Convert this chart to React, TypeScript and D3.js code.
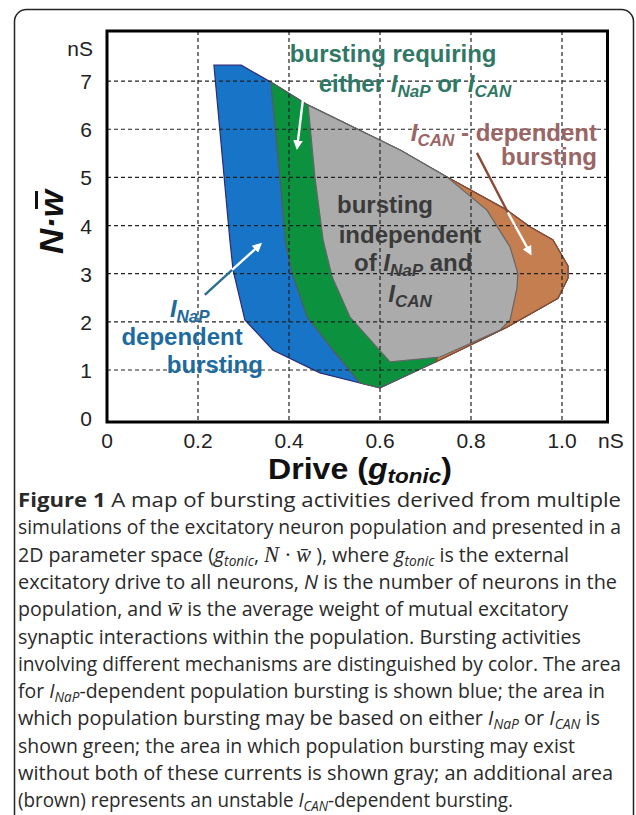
import * as d3 from "d3";

const W = 636;
const H = 815;

// axes
const xTicks = [0, 0.2, 0.4, 0.6, 0.8, 1.0];
const xTickLabels = ["0", "0.2", "0.4", "0.6", "0.8", "1.0"];
const yTicks = [0, 1, 2, 3, 4, 5, 6, 7];
const xGrid = [0.2, 0.4, 0.6, 0.8, 1.0];
const yGrid = [1, 2, 3, 4, 5, 6, 7];

// regions, [g_tonic, N*w]; drawn one over another
const blueRegion: [number, number][] = [
  [0.235, 7.33], [0.295, 7.33], [0.36, 6.98], [0.442, 6.5], [0.644, 5.57],
  [0.747, 5.01], [0.879, 4.32], [0.93, 3.97], [0.98, 3.7], [1.013, 3.16],
  [1.013, 2.91], [0.991, 2.49], [0.879, 1.89], [0.723, 1.17], [0.6, 0.63],
  [0.556, 0.73], [0.468, 0.94], [0.365, 1.41], [0.303, 2.04], [0.277, 3.08],
  [0.27, 3.7],
];
const greenRegion: [number, number][] = [
  [0.36, 6.98], [0.442, 6.5], [0.644, 5.57], [0.747, 5.01], [0.879, 4.32],
  [0.93, 3.97], [0.98, 3.7], [1.013, 3.16], [1.013, 2.91], [0.991, 2.49],
  [0.879, 1.89], [0.723, 1.17], [0.6, 0.63], [0.556, 0.73], [0.497, 1.41],
  [0.44, 2.1], [0.407, 3.01], [0.393, 3.6], [0.38, 5.01],
];
const brownRegion: [number, number][] = [
  [0.747, 5.01], [0.879, 4.32], [0.93, 3.97], [0.98, 3.7], [1.013, 3.16],
  [1.013, 2.91], [0.991, 2.49], [0.879, 1.89], [0.723, 1.17], [0.8, 3.0],
];
const grayRegion: [number, number][] = [
  [0.442, 6.5], [0.644, 5.57], [0.747, 5.01], [0.835, 4.32], [0.886, 3.55],
  [0.903, 3.01], [0.901, 2.7], [0.886, 2.04], [0.864, 1.83], [0.732, 1.27],
  [0.622, 1.17], [0.534, 2.1], [0.495, 2.93], [0.475, 3.7], [0.457, 5.01],
];

// arrows: start, colour change, tip
const arrowGreen: [number, number][] = [[0.435, 6.96], [0.435, 6.96], [0.418, 5.63]];
const arrowBrown: [number, number][] = [[0.813, 5.51], [0.881, 4.27], [0.93, 3.43]];
const arrowBlue: [number, number][] = [[0.215, 2.56], [0.275, 3.08], [0.336, 3.6]];

// n = normal, b = bold, i = italic, s = italic subscript, m = math
type Seg = [string, string];

// label text, [x, y] in data units, anchor, colour
const annotations: { segs: Seg[]; at: [number, number]; anchor: string; color: string }[] = [
  { segs: [["n", "bursting  requiring"]], at: [0.629, 7.4], anchor: "middle", color: "#2f7866" },
  { segs: [["n", "either "], ["i", "I"], ["s", "NaP"], ["n", " or "], ["i", "I"], ["s", "CAN"]], at: [0.677, 6.77], anchor: "middle", color: "#2f7866" },
  { segs: [["i", "I"], ["s", "CAN"], ["n", " - dependent"]], at: [1.077, 5.76], anchor: "end", color: "#9a6565" },
  { segs: [["n", "bursting"]], at: [1.077, 5.26], anchor: "end", color: "#9a6565" },
  { segs: [["n", "bursting"]], at: [0.611, 4.26], anchor: "middle", color: "#3a3a3a" },
  { segs: [["n", "independent"]], at: [0.666, 3.64], anchor: "middle", color: "#3a3a3a" },
  { segs: [["n", "of "], ["i", "I"], ["s", "NaP"], ["n", " and"]], at: [0.673, 3.05], anchor: "middle", color: "#3a3a3a" },
  { segs: [["i", "I"], ["s", "CAN"]], at: [0.666, 2.41], anchor: "middle", color: "#3a3a3a" },
  { segs: [["i", "I"], ["s", "NaP"]], at: [0.182, 2.1], anchor: "middle", color: "#1d6b9e" },
  { segs: [["n", "dependent"]], at: [0.165, 1.52], anchor: "middle", color: "#1d6b9e" },
  { segs: [["n", "bursting"]], at: [0.237, 0.94], anchor: "middle", color: "#1d6b9e" },
];

const captionLines: Seg[][] = [
  [["b", "Figure 1"], ["n", " A map of bursting activities derived from multiple"]],
  [["n", "simulations of the excitatory neuron population and presented in a"]],
  [["n", "2D parameter space ("], ["i", "g"], ["s", "tonic"], ["n", ",  "], ["m", "N · w\u0304"], ["n", " ), where "], ["i", "g"], ["s", "tonic"], ["n", " is the external"]],
  [["n", "excitatory drive to all neurons, "], ["i", "N"], ["n", " is the number of neurons in the"]],
  [["n", "population, and  "], ["m", "w\u0304"], ["n", "  is the average weight of mutual excitatory"]],
  [["n", "synaptic interactions within the population. Bursting activities"]],
  [["n", "involving different mechanisms are distinguished by color. The area"]],
  [["n", "for "], ["i", "I"], ["s", "NaP"], ["n", "-dependent population bursting is shown blue; the area in"]],
  [["n", "which population bursting may be based on either "], ["i", "I"], ["s", "NaP"], ["n", " or "], ["i", "I"], ["s", "CAN"], ["n", " is"]],
  [["n", "shown green; the area in which population bursting may exist"]],
  [["n", "without both of these currents is shown gray; an additional area"]],
  [["n", "(brown) represents an unstable "], ["i", "I"], ["s", "CAN"], ["n", "-dependent bursting."]],
];
const captionEnds = [621, 621, 569, 617, 568, 581, 621, 605, 600, 575, 613, 513];

const SANS = "Liberation Sans, Arial, sans-serif";

function renderSegs(segs: Seg[], subSize: number, shift: number, mathSize: number) {
  let shifted = false;
  return segs.map(([kind, txt], si) => {
    let dy = 0;
    if (kind === "s" && !shifted) { dy = shift; shifted = true; }
    else if (kind !== "s" && shifted) { dy = -shift; shifted = false; }
    const props: any = {};
    if (dy) props.dy = dy;
    if (kind === "b") props.fontWeight = "bold";
    if (kind === "i") props.fontStyle = "italic";
    if (kind === "s") { props.fontStyle = "italic"; props.fontSize = subSize; }
    if (kind === "m") {
      props.fontFamily = "Liberation Serif, serif";
      props.fontStyle = "italic";
      props.fontWeight = "normal";
      props.fontSize = mathSize;
    }
    return <tspan key={si} {...props}>{txt}</tspan>;
  });
}

export default function App() {
  const x = d3.scaleLinear().domain([0, 1.1]).range([107, 607.5]);
  const y = d3.scaleLinear().domain([-0.08, 8.04]).range([422, 31]);
  const path = d3
    .line<[number, number]>()
    .x((d) => x(d[0]))
    .y((d) => y(d[1]))
    .curve(d3.curveLinearClosed);
  const seg = (pts: [number, number][], a: number, b: number) =>
    `M${x(pts[a][0])},${y(pts[a][1])}L${x(pts[b][0])},${y(pts[b][1])}`;

  return (
    <svg width={W} height={H} style={{ position: "absolute", left: 0, top: 0 }} fontFamily={SANS}>
      <defs>
        <marker id="ahw" viewBox="0 0 10 10" refX="7" refY="5" markerWidth="4" markerHeight="4" orient="auto">
          <path d="M0,0L10,5L0,10z" fill="#fff" />
        </marker>
      </defs>
      <rect x={14.5} y={9.5} width={619} height={840} rx={12} fill="#fff" stroke="#222" strokeWidth={1.5} />

      {/* regions */}
      <path d={path(blueRegion)!} fill="#1874c6" stroke="#2a2a7a" strokeWidth={1.2} />
      <path d={path(greenRegion)!} fill="#0c923f" stroke="#5a5a5a" strokeWidth={1.2} />
      <path d={path(brownRegion)!} fill="#c47e50" stroke="#8a4a2c" strokeWidth={1.2} />
      <path d={path(grayRegion)!} fill="#ababab" stroke="#666" strokeWidth={1.2} />

      {/* grid */}
      <g stroke="#222" strokeWidth={1.2} strokeDasharray="4,3">
        {xGrid.map((v) => (
          <line key={"gx" + v} x1={x(v)} x2={x(v)} y1={31} y2={422} />
        ))}
        {yGrid.map((v) => (
          <line key={"gy" + v} x1={107} x2={607.5} y1={y(v)} y2={y(v)} />
        ))}
      </g>
      <rect x={107} y={31} width={500.5} height={391} fill="none" stroke="#000" strokeWidth={3} />

      {/* ticks */}
      <g fontSize={21} fill="#222">
        {xTicks.map((v, i) => (
          <text key={"tx" + v} x={x(v)} y={448} textAnchor="middle">{xTickLabels[i]}</text>
        ))}
        <text x={598} y={448}>nS</text>
        {yTicks.map((v) => (
          <text key={"ty" + v} x={92} y={y(v) + 8} textAnchor="end">{v}</text>
        ))}
        <text x={93} y={56} textAnchor="end">nS</text>
      </g>

      {/* axis titles */}
      <text x={268} y={479} fontSize={30} fontWeight="bold" fill="#111" textLength={184} lengthAdjust="spacingAndGlyphs">
        {renderSegs([["n", "Drive ("], ["i", "g"], ["s", "tonic"], ["n", ")"]], 21, 4, 30)}
      </text>
      <g transform="translate(63,222) rotate(-90)">
        <text x={0} y={0} fontSize={33} fontWeight="bold" fontStyle="italic" fill="#111" textAnchor="middle" textLength={64} lengthAdjust="spacingAndGlyphs">
          N·w
        </text>
        <line x1={13} x2={31} y1={-26.5} y2={-26.5} stroke="#111" strokeWidth={3} />
      </g>

      {/* arrows */}
      <g strokeWidth={2.4} fill="none">
        <path d={seg(arrowGreen, 0, 2)} stroke="#fff" markerEnd="url(#ahw)" />
        <path d={seg(arrowBrown, 0, 1)} stroke="#8a4a35" />
        <path d={seg(arrowBrown, 1, 2)} stroke="#fff" markerEnd="url(#ahw)" />
        <path d={seg(arrowBlue, 0, 1)} stroke="#2a6f90" />
        <path d={seg(arrowBlue, 1, 2)} stroke="#fff" markerEnd="url(#ahw)" />
      </g>

      {/* annotations */}
      <g fontWeight="bold" fontSize={24} style={{ whiteSpace: "pre" }}>
        {annotations.map((a, i) => (
          <text key={i} x={x(a.at[0])} y={y(a.at[1])} fill={a.color} textAnchor={a.anchor}>
            {renderSegs(a.segs, 17, 5, 24)}
          </text>
        ))}
      </g>

      {/* caption */}
      <g fontFamily="Open Sans, sans-serif" fontSize={20} fill="#2a2a2a" style={{ whiteSpace: "pre" }}>
        {captionLines.map((segs, li) => (
          <text key={li} x={18} y={507 + li * 27.3} textLength={captionEnds[li] - 18} lengthAdjust="spacingAndGlyphs">
            {renderSegs(segs, 14, 4, 23)}
          </text>
        ))}
      </g>
    </svg>
  );
}
